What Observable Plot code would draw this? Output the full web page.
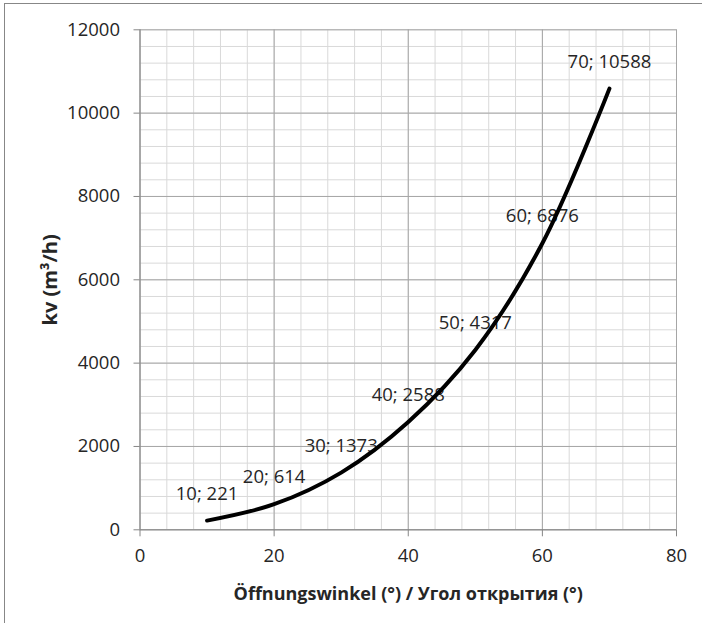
<!DOCTYPE html>
<html>
<head>
<meta charset="utf-8">
<script src="https://cdn.jsdelivr.net/npm/d3@7"></script>
<script src="https://cdn.jsdelivr.net/npm/@observablehq/plot@0.6"></script>
<style>
  html, body { margin: 0; padding: 0; background: #fff; overflow: hidden; }
  #frame { position: absolute; left: 4px; top: 3px; width: 760px; height: 700px;
           border: 1px solid #878787; box-sizing: border-box; }
  #chart { position: absolute; left: 0; top: 0; }
  #chart svg { font-family: "Open Sans", sans-serif; }
  #chart g[aria-label="x-axis label"] text { font-weight: bold; font-size: 18px; }
  #chart g[aria-label="y-axis label"] text { font-weight: bold; font-size: 20px; }
</style>
</head>
<body>
<div id="frame"></div>
<div id="chart"></div>
<script>
// Opening angle (°) and resulting flow coefficient kv (m³/h)
const angles = [10, 20, 30, 40, 50, 60, 70];
const kv = [221, 614, 1373, 2588, 4317, 6876, 10588];

// Axis ticks: labelled majors and the finer minor grid
const xTicks = [0, 20, 40, 60, 80];
const yTicks = [0, 2000, 4000, 6000, 8000, 10000, 12000];
const xMinor = d3.range(0, 81, 4);
const yMinor = d3.range(0, 12001, 400);

const xTitle = "Öffnungswinkel (°) / Угол открытия (°)";
const yTitle = "kv (m³/h)";

const points = angles.map((a, i) => ({angle: a, kv: kv[i], label: `${a}; ${kv[i]}`}));

const axisColor = "#868686";
const majorColor = "#a6a6a6";
const minorColor = "#d9d9d9";
const textColor = "#262626";

const chart = Plot.plot({
  width: 702,
  height: 623,
  marginLeft: 139.5,
  marginRight: 26,
  marginTop: 29.3,
  marginBottom: 93.7,
  x: {domain: [0, 80]},
  y: {domain: [0, 12000]},
  marks: [
    Plot.gridX(xMinor, {stroke: minorColor, strokeOpacity: 1}),
    Plot.gridY(yMinor, {stroke: minorColor, strokeOpacity: 1}),
    Plot.gridX(xTicks, {stroke: majorColor, strokeOpacity: 1}),
    Plot.gridY(yTicks, {stroke: majorColor, strokeOpacity: 1}),
    // axis lines along x = 0 and y = 0
    Plot.gridX([0], {stroke: axisColor, strokeOpacity: 1}),
    Plot.gridY([0], {stroke: axisColor, strokeOpacity: 1}),
    Plot.axisX({
      ticks: xTicks, tickSize: 7, tickPadding: 12, tickFormat: d => String(d),
      stroke: axisColor, fill: textColor, fontSize: 18.5,
      label: xTitle, labelAnchor: "center", labelOffset: 70, labelArrow: "none"
    }),
    Plot.axisY({
      ticks: yTicks, tickSize: 6, tickPadding: 14, tickFormat: d => String(d),
      stroke: axisColor, fill: textColor, fontSize: 18.5,
      label: yTitle, labelAnchor: "center", labelOffset: 97, labelArrow: "none"
    }),
    Plot.text(points, {
      x: "angle", y: "kv", text: "label", dy: -27,
      fill: textColor, fontSize: 18.5
    }),
    Plot.line(points, {
      x: "angle", y: "kv", curve: "catmull-rom",
      stroke: "#000", strokeWidth: 4, strokeLinecap: "round"
    })
  ]
});

document.getElementById("chart").append(chart);
</script>
</body>
</html>
